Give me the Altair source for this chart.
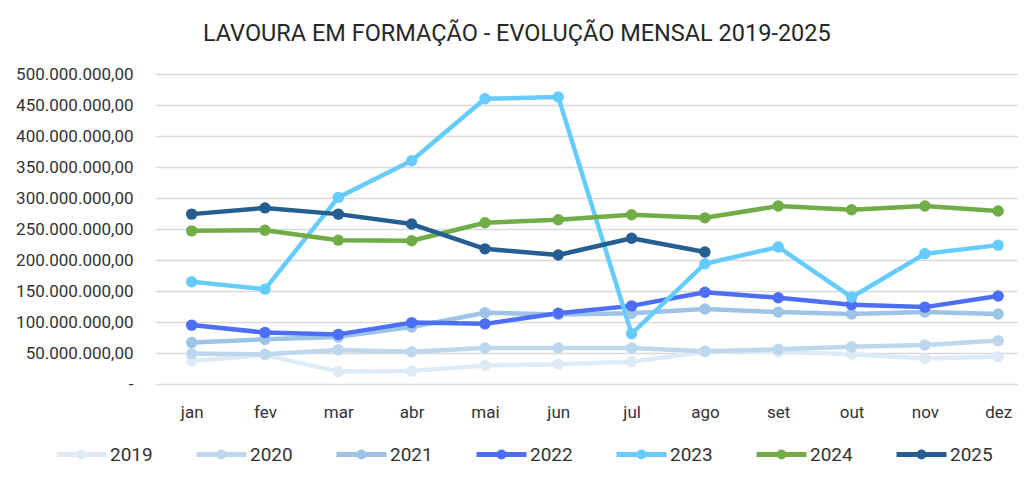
import altair as alt
import pandas as pd

months = ["jan", "fev", "mar", "abr", "mai", "jun", "jul", "ago", "set", "out", "nov", "dez"]
years = ["2019", "2020", "2021", "2022", "2023", "2024", "2025"]
colors = ["#DEEBF7", "#BDD7EE", "#9DC3E6", "#4D6EF7", "#66CCFF", "#70AD47", "#255E91"]

# values in millions
v2019 = [37, 47, 20, 21, 30, 32, 36, 52, 52, 48, 41, 44]
v2020 = [49, 48, 55, 52, 58, 58, 58, 53, 56, 60, 63, 70]
v2021 = [67, 72, 76, 92, 115, 112, 114, 121, 116, 113, 116, 113]
v2022 = [95, 83, 80, 99, 97, 114, 126, 148, 139, 128, 124, 142]
v2023 = [165, 153, 301, 360, 460, 463, 81, 194, 221, 140, 210, 224]
v2024 = [247, 248, 232, 231, 260, 265, 273, 268, 287, 281, 287, 279]
v2025 = [274, 284, 274, 258, 218, 208, 235, 213]

series = [v2019, v2020, v2021, v2022, v2023, v2024, v2025]
rows = []
for y, vals in zip(years, series):
    for i, v in enumerate(vals):
        rows.append({"ano": y, "mes": i + 1, "valor": v * 1_000_000})
df = pd.DataFrame(rows)

font = "Roboto"
month_expr = "[" + ",".join("'%s'" % m for m in months) + "][datum.value - 1]"
y_expr = ("datum.value == 0 ? '-' : "
          "replace(format(datum.value, ',.0f'), regexp(',', 'g'), '.') + ',00'")

legend_path = "M-1,0L1,0M-0.1,0A0.1,0.1,0,1,1,0.1,0A0.1,0.1,0,1,1,-0.1,0Z"

color = alt.Color(
    "ano:N",
    scale=alt.Scale(domain=years, range=colors),
    legend=alt.Legend(
        title=None,
        orient="none",
        direction="horizontal",
        legendX=-101,
        legendY=353,
        columns=7,
        symbolType=legend_path,
        symbolSize=2500,
        symbolStrokeWidth=5,
        labelFont=font,
        labelFontSize=19,
        labelColor="#333333",
        labelOffset=1,
        columnPadding=33,
    ),
)

x = alt.X(
    "mes:Q",
    scale=alt.Scale(domain=[0.5, 12.27], nice=False, zero=False),
    axis=alt.Axis(
        title=None,
        values=list(range(1, 13)),
        labelExpr=month_expr,
        grid=False,
        ticks=False,
        domain=False,
        labelPadding=20,
        labelFont=font,
        labelFontSize=17,
        labelColor="#333333",
    ),
)
y = alt.Y(
    "valor:Q",
    scale=alt.Scale(domain=[0, 500_000_000], nice=False),
    axis=alt.Axis(
        title=None,
        values=[i * 50_000_000 for i in range(11)],
        labelExpr=y_expr,
        grid=True,
        gridColor="#D9D9D9",
        gridWidth=1.5,
        ticks=False,
        domain=False,
        labelPadding=22,
        labelFont=font,
        labelFontSize=17,
        labelColor="#333333",
    ),
)

base = alt.Chart(df).encode(x=x, y=y, color=color, order=alt.Order("mes:Q"))
lines = base.mark_line(strokeWidth=4.5, strokeCap="round", strokeJoin="round")
points = base.mark_point(filled=True, size=130, opacity=1, shape="circle")

chart = (
    alt.layer(lines, points)
    .properties(
        width=863,
        height=310,
        title=alt.TitleParams(
            "LAVOURA EM FORMAÇÃO - EVOLUÇÃO MENSAL 2019-2025",
            font=font,
            fontSize=23.5,
            fontWeight="normal",
            color="#262626",
            anchor="middle",
            frame="bounds",
            offset=20,
        ),
        autosize=alt.AutoSizeParams(type="none"),
        padding={"left": 147, "top": 66, "right": 0, "bottom": 90},
        background="white",
    )
    .configure_view(stroke=None)
)

chart.save("out.html", embed_options={"renderer": "svg", "actions": False})
